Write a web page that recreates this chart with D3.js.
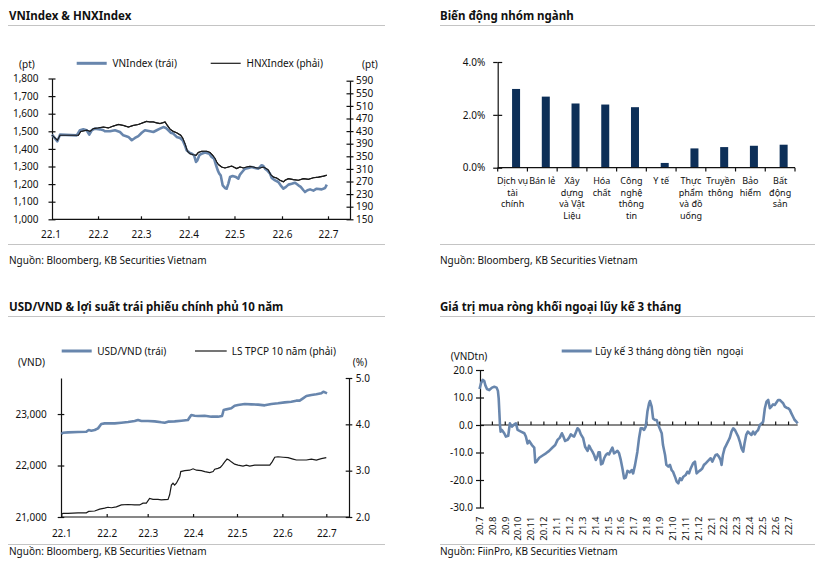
<!DOCTYPE html>
<html><head><meta charset="utf-8">
<script src="https://cdn.jsdelivr.net/npm/d3@7"></script>
<style>body{margin:0;background:#fff}svg{font-family:"Noto Sans",sans-serif}</style>
</head><body><script>
// ---------- DATA ----------
// Panel 1: VNIndex / HNXIndex (days since 2022-01-01)
const vnDay = [1,4.5,6.2,17.1,19.2,21.4,23.6,25.3,26.9,29.0,
  32.3,34.5,35.6,38.8,42.1,45.3,47.5,50.8,53.0,55.1,
  57.3,59.5,61.6,64.9,67.1,69.3,71.4,73.6,75.3,76.9,
  78.4,80.1,82.3,84.5,86.2,87.7,88.8,90.6,92.1,93.6,
  94.9,95.8,97.1,98.6,100.8,103.6,105.1,106.7,108.0,109.1,
  110.1,111.0,112.3,113.8,114.9,116.0,117.1,118.8,121.0,122.5,
  123.6,125.4,126.9,129.1,131.2,133.4,135.6,137.7,138.8,139.9,
  141.4,143.2,144.3,146.5,148.6,150.1,151.9,153.6,155.2,157.3,
  159.5,161.7,163.2,165.0,166.0,167.6,169.3,171.5,173.6,176.9,
  179.1,180.2];
const vnValue = [1481,1443,1481,1477,1506,1511,1506,1481,1506,1515,
  1511,1506,1500,1500,1506,1496,1477,1468,1449,1462,
  1473,1492,1506,1500,1496,1506,1515,1524,1519,1506,
  1492,1487,1468,1462,1449,1420,1392,1379,1373,1364,
  1326,1335,1364,1373,1379,1373,1354,1345,1307,1278,
  1259,1250,1193,1178,1174,1203,1240,1246,1240,1231,
  1254,1273,1288,1292,1297,1292,1288,1307,1303,1288,
  1278,1259,1235,1221,1212,1193,1174,1184,1197,1202,
  1208,1193,1184,1165,1155,1165,1170,1163,1174,1170,
  1178,1197];
const hnxDay = [1,4.5,6.2,18.2,19.7,23.6,25.8,28.0,31.2,34.5,
  37.7,41.0,44.3,47.5,50.8,54.0,57.3,60.6,62.7,64.9,
  67.1,69.3,71.4,73.6,74.7,76.2,78.0,80.1,82.3,84.9,
  86.2,87.7,89.3,91.0,93.2,94.9,96.4,98.6,101.9,104.0,
  105.8,107.3,108.4,109.5,111.6,113.8,116.0,118.2,121.4,123.6,
  125.8,128.0,130.1,132.3,134.5,136.6,138.8,140.6,142.1,143.6,
  145.4,147.5,149.7,151.9,153.0,155.2,158.4,161.7,165.0,168.2,
  171.5,174.8,178.1,180.2];
const hnxValue = [417,401,417,417,429,433,429,438,440,443,
  440,446,451,448,443,448,451,457,461,459,
  459,456,454,457,459,448,436,429,425,417,
  408,390,366,358,355,353,362,366,366,362,
  353,343,332,324,316,313,316,319,311,316,
  313,316,318,316,313,313,316,311,306,292,
  284,281,274,269,274,279,276,274,279,277,
  282,284,287,290];
const idxMonthTicks = ["2022-01-01","2022-02-01","2022-03-01","2022-04-01","2022-05-01","2022-06-01","2022-07-01"];
const idxMonthLabels = ["22.1","22.2","22.3","22.4","22.5","22.6","22.7"];
const vnTicks = [1000,1100,1200,1300,1400,1500,1600,1700,1800];
const hnxTicks = [150,190,230,270,310,350,390,430,470,510,550,590];

// Panel 2: sectors
const sectorNames = ["Dịch vụ\ntài\nchính","Bán lẻ","Xây\ndựng\nvà Vật\nLiệu","Hóa\nchất","Công\nnghệ\nthông\ntin","Y tế","Thực\nphẩm\nvà đồ\nuống","Truyền\nthông","Bảo\nhiểm","Bất\nđộng\nsản"];
const sectorValues = [2.98,2.69,2.43,2.39,2.29,0.18,0.73,0.78,0.83,0.87];
const sectorTicks = [0,2,4];

// Panel 3: USD/VND and 10Y yield (days since 2022-01-01)
const usdDay = [0,1.2,4.6,11.4,17.1,18.7,20.5,22.8,25.1,27.3,
  29.6,36.5,41.0,45.6,50.1,52.4,54.7,59.2,63.8,68.3,
  70.6,72.9,77.4,82.0,86.5,87.7,88.8,91.1,93.4,97.9,
  102.5,107.0,109.8,110.9,112.7,116.1,118.4,120.7,125.3,129.8,
  134.4,138.9,143.5,148.0,152.6,157.1,160.5,162.8,165.1,167.4,
  170.8,174.2,177.6,179,180.5,181.5];
const usdValue = [22612,22638,22644,22651,22657,22690,22677,22690,22722,22806,
  22819,22819,22832,22845,22865,22884,22865,22865,22858,22839,
  22832,22852,22858,22871,22884,22936,22981,22968,22962,22968,
  22949,22949,22962,23078,23091,23111,23162,23175,23195,23188,
  23182,23169,23195,23208,23227,23240,23260,23260,23305,23350,
  23370,23383,23402,23434,23415,23402];
const yieldDay = [0,1.2,4.6,11.4,17.1,18.7,22.8,26.2,29.6,31.9,
  34.2,37.6,41.0,45.6,50.1,53.5,55.8,58.1,60.3,62.6,
  66.0,68.3,72.9,74.0,75.2,76.3,77.4,78.6,80.9,81.6,
  84.3,87.7,90.0,92.3,95.7,98.0,101.4,103.7,104.8,107.0,
  108.6,110.0,111.6,113.2,114.6,116.1,118.4,120.7,124.1,126.4,
  128.7,132.1,136.7,140.0,142.4,144.0,145.8,148.0,151.5,154.9,
  158.3,160.6,164.0,167.4,170.8,174.2,177.6,181.0];
const yieldValue = [2.06,2.08,2.08,2.09,2.09,2.12,2.13,2.17,2.19,2.21,
  2.20,2.22,2.26,2.27,2.26,2.26,2.30,2.30,2.40,2.38,
  2.38,2.37,2.38,2.48,2.69,2.73,2.69,2.73,2.87,2.98,
  3.00,3.01,3.04,3.01,3.00,2.98,2.96,2.98,3.03,3.05,
  3.07,3.12,3.19,3.25,3.23,3.19,3.14,3.12,3.10,3.12,
  3.10,3.12,3.12,3.12,3.12,3.19,3.29,3.30,3.29,3.28,
  3.25,3.23,3.23,3.23,3.25,3.23,3.26,3.28];
const usdTicks = [21000,22000,23000];
const yieldTicks = [2,3,4,5];

// Panel 4: foreign net buying, 3M cumulative (months since 2020-07)
const flowMonth = [0.0,0.12,0.25,0.37,0.45,0.58,0.76,0.97,1.15,1.33,
  1.43,1.49,1.54,1.59,1.64,1.74,1.92,2.05,2.23,2.36,
  2.52,2.70,2.83,2.96,3.22,3.48,3.60,3.73,3.86,4.07,
  4.25,4.33,4.43,4.64,4.90,5.16,5.41,5.67,5.88,6.06,
  6.24,6.40,6.50,6.65,6.83,6.96,7.09,7.22,7.35,7.48,
  7.61,7.74,7.87,8.05,8.20,8.39,8.51,8.64,8.77,8.90,
  9.03,9.16,9.24,9.34,9.44,9.55,9.68,9.81,9.94,10.06,
  10.19,10.32,10.45,10.58,10.71,10.84,10.97,11.10,11.23,11.36,
  11.49,11.67,11.82,11.93,12.08,12.26,12.39,12.52,12.65,12.78,
  12.91,13.04,13.17,13.24,13.37,13.48,13.63,13.76,13.89,13.99,
  14.15,14.25,14.41,14.51,14.66,14.79,14.92,15.03,15.18,15.31,
  15.44,15.57,15.70,15.83,16.01,16.14,16.27,16.40,16.58,16.73,
  16.86,16.99,17.17,17.30,17.43,17.56,17.69,17.82,17.95,18.08,
  18.20,18.33,18.46,18.59,18.72,18.80,18.90,19.03,19.16,19.32,
  19.44,19.57,19.70,19.83,19.96,20.09,20.22,20.35,20.48,20.58,
  20.71,20.84,20.97,21.12,21.25,21.38,21.51,21.64,21.77,21.90,
  22.03,22.16,22.29,22.42,22.55,22.67,22.80,22.93,23.06,23.19,
  23.32,23.45,23.58,23.71,23.84,23.97,24.10,24.22,24.35,24.48,
  24.61,24.71];
const flowValue = [13.1,15.2,16.4,16.0,14.5,13.1,12.7,13.6,13.9,13.6,
  12.4,9.7,4.9,0.0,-2.4,-1.8,-3.0,-4.2,-3.9,0.6,
  -0.6,0.2,0.6,-1.8,-2.4,-3.0,-4.2,-6.7,-5.8,-7.3,
  -8.2,-13.6,-13.3,-11.9,-11.1,-10.3,-9.4,-8.2,-7.3,-5.4,
  -4.6,-3.0,-4.0,-5.8,-5.4,-4.6,-3.4,-3.9,-4.2,-2.7,
  -1.2,-1.8,-3.4,-4.8,-7.9,-9.4,-7.5,-8.7,-9.7,-10.9,
  -12.7,-11.5,-9.9,-9.9,-14.3,-14.0,-12.1,-10.9,-10.3,-10.7,
  -9.4,-8.2,-10.3,-9.9,-9.4,-10.3,-12.7,-15.8,-19.4,-19.1,
  -16.7,-17.2,-16.4,-17.6,-14.5,-9.7,-4.8,-1.2,-1.2,-1.8,
  -0.6,4.9,7.9,8.7,6.7,2.4,1.8,1.8,0.0,-1.2,
  -3.0,-7.3,-10.9,-14.5,-15.1,-14.5,-16.4,-17.0,-18.8,-20.6,
  -21.2,-19.4,-20.0,-18.8,-18.2,-17.0,-17.6,-15.8,-14.0,-13.3,
  -17.6,-17.0,-16.4,-15.8,-14.5,-14.0,-13.3,-12.7,-12.1,-13.3,
  -12.1,-10.9,-10.7,-11.5,-12.7,-14.5,-10.9,-8.5,-7.3,-5.8,
  -4.6,-2.4,-1.2,-1.8,-3.0,-4.2,-6.1,-8.5,-9.7,-6.7,
  -3.6,-2.4,-3.0,-3.6,-2.4,-3.4,-2.4,-1.8,0.0,0.6,
  1.2,6.1,8.5,9.1,6.1,6.7,7.5,7.3,8.2,9.1,
  9.1,8.5,7.9,6.7,6.3,6.1,5.5,4.2,3.0,1.8,
  1.2,0.6];
const flowTicks = [-30,-20,-10,0,10,20];
const flowMonthLabels = ["20.7","20.8","20.9","20.10","20.11","20.12","21.1","21.2","21.3","21.4","21.5","21.6","21.7","21.8","21.9","21.10","21.11","21.12","22.1","22.2","22.3","22.4","22.5","22.6","22.7"];

// ---------- DRAWING ----------
const BLUE = "#6886ad", INK = "#111";
const FONT = '"Noto Sans", sans-serif';
const svg = d3.select("body").append("svg").attr("width",815).attr("height",561);
const day0 = new Date(2022,0,1);
const toDate = d => new Date(day0.getTime() + d*86400000);

function styleAxis(g){
  g.attr("font-family",FONT).attr("font-size",10).attr("color",INK);
  g.selectAll("path,line").attr("stroke-width",1.2);
  return g;
}
function crossTicks(g, len){
  g.selectAll(".tick").append("line").attr("x2",len).attr("stroke","currentColor").attr("stroke-width",1.2);
}
function text(x,y,s,opt={}){
  return svg.append("text").attr("x",x).attr("y",y).text(s)
    .attr("font-size",opt.size||10).attr("font-weight",opt.weight||"normal")
    .attr("text-anchor",opt.anchor||"start").attr("fill",INK).style("white-space","pre");
}
function hline(x1,x2,y,color,w){
  svg.append("line").attr("x1",x1).attr("x2",x2).attr("y1",y).attr("y2",y).attr("stroke",color).attr("stroke-width",w);
}

// frames: titles, separators, sources
[[8,385],[440,815]].forEach(([a,b])=>{
  hline(a,b,25.5,"#c4c4c4",1); hline(a,b,244.5,"#c4c4c4",1);
  hline(a,b,316.5,"#c4c4c4",1); hline(a,b,544.5,"#c4c4c4",1);
});
text(9,19.5,"VNIndex & HNXIndex",{size:11.5,weight:"bold"});
text(440,19.5,"Biến động nhóm ngành",{size:11.5,weight:"bold"});
text(9,310.5,"USD/VND & lợi suất trái phiếu chính phủ 10 năm",{size:11.5,weight:"bold"});
text(440,310.5,"Giá trị mua ròng khối ngoại lũy kế 3 tháng",{size:11.5,weight:"bold"});
text(9,263.5,"Nguồn: Bloomberg, KB Securities Vietnam");
text(440,263.5,"Nguồn: Bloomberg, KB Securities Vietnam");
text(9,555,"Nguồn: Bloomberg, KB Securities Vietnam");
text(440,555,"Nguồn: FiinPro, KB Securities Vietnam");

// ---------- Panel 1 ----------
{
  const x = d3.scaleTime().domain([day0, new Date(2022,6,1)]).range([50.5,328]);
  const yL = d3.scaleLinear().domain([1000,1800]).range([219.3,78.5]);
  const yR = d3.scaleLinear().domain([150,590]).range([219.3,80.7]);
  hline(52,350,219.3,INK,1.2);
  const gx = styleAxis(svg.append("g").attr("transform","translate(0,219.3)")
    .call(d3.axisBottom(x).tickValues(idxMonthTicks.map(s=>new Date(s+"T00:00"))).tickFormat((d,i)=>idxMonthLabels[i])
      .tickSizeInner(-3).tickSizeOuter(0).tickPadding(12)));
  gx.select(".domain").remove();
  gx.select(".tick line").remove();
  const gl = styleAxis(svg.append("g").attr("transform","translate(52,0)")
    .call(d3.axisLeft(yL).tickValues(vnTicks).tickFormat(d3.format(",")).tickSizeInner(3.5).tickSizeOuter(0).tickPadding(10)));
  crossTicks(gl,3.5);
  const gr = styleAxis(svg.append("g").attr("transform","translate(350,0)")
    .call(d3.axisRight(yR).tickValues(hnxTicks).tickSizeInner(3.5).tickSizeOuter(0).tickPadding(2.5)));
  crossTicks(gr,-3.5);
  const hnxLine = d3.line().x(d=>x(toDate(d[0]))).y(d=>yR(d[1]));
  svg.append("path").datum(d3.zip(hnxDay,hnxValue)).attr("fill","none").attr("stroke","#1a1a1a").attr("stroke-width",1.2)
    .attr("d",hnxLine);
  svg.append("path").datum(d3.zip(vnDay,vnValue)).attr("fill","none").attr("stroke",BLUE).attr("stroke-width",2.6)
    .attr("stroke-linejoin","round").attr("d",d3.line().x(d=>x(toDate(d[0]))).y(d=>yL(d[1])));
  svg.append("path").datum(d3.zip(hnxDay,hnxValue)).attr("fill","none").attr("stroke","#1a1a1a").attr("stroke-width",1.1)
    .attr("d",hnxLine);
  hline(76.7,106.7,63.3,BLUE,3); text(112.5,67,"VNIndex (trái)");
  hline(210.7,240.7,63.3,"#1a1a1a",1.2); text(246.5,67,"HNXIndex (phải)");
  text(27,68,"(pt)",{anchor:"middle"}); text(370,68,"(pt)",{anchor:"middle"});
}

// ---------- Panel 2 ----------
{
  const x = d3.scaleBand().domain(sectorNames).range([497.7,795]);
  const y = d3.scaleLinear().domain([0,4]).range([167.7,62]);
  const bw = x.bandwidth();
  svg.append("g").selectAll("rect").data(d3.zip(sectorNames,sectorValues)).join("rect")
    .attr("x",d=>x(d[0])+bw/2-0.5).attr("width",8)
    .attr("y",d=>y(d[1])).attr("height",d=>y(0)-y(d[1]))
    .attr("fill","#0d2f58");
  const gl = styleAxis(svg.append("g").attr("transform","translate(497.7,0)")
    .call(d3.axisLeft(y).tickValues(sectorTicks).tickFormat(d=>d.toFixed(1)+"%").tickSizeInner(4.5).tickSizeOuter(0).tickPadding(8)));
  crossTicks(gl,4.5);
  hline(497.7,795,167.7,INK,1.2);
  const bounds = sectorNames.map(n=>x(n)).concat([x.range()[1]]);
  svg.append("g").selectAll("line").data(bounds).join("line")
    .attr("x1",d=>d).attr("x2",d=>d).attr("y1",167.7).attr("y2",171.5).attr("stroke",INK).attr("stroke-width",1.2);
  const lab = svg.append("g").attr("font-size",9).attr("fill",INK).attr("text-anchor","middle");
  sectorNames.forEach(n=>{
    const t = lab.append("text").attr("x",x(n)+bw/2).attr("y",184);
    n.split("\n").forEach((ln,i)=>t.append("tspan").attr("x",x(n)+bw/2).attr("dy",i?11.7:0).text(ln));
  });
}

// ---------- Panel 3 ----------
{
  const x = d3.scaleTime().domain([day0, new Date(2022,6,1)]).range([61.3,326.3]);
  const yL = d3.scaleLinear().domain([21000,23700]).range([517,378]);
  const yR = d3.scaleLinear().domain([2,5]).range([517,378]);
  hline(61,349,517,INK,1.2);
  const gx = styleAxis(svg.append("g").attr("transform","translate(0,517)")
    .call(d3.axisBottom(x).tickValues(idxMonthTicks.map(s=>new Date(s+"T00:00"))).tickFormat((d,i)=>idxMonthLabels[i])
      .tickSizeInner(-3).tickSizeOuter(0).tickPadding(13)));
  gx.select(".domain").remove();
  const gl = styleAxis(svg.append("g").attr("transform","translate(61,0)")
    .call(d3.axisLeft(yL).tickValues(usdTicks).tickFormat(d3.format(",")).tickSizeInner(3.3).tickSizeOuter(0).tickPadding(11)));
  crossTicks(gl,3.3);
  const gr = styleAxis(svg.append("g").attr("transform","translate(349,0)")
    .call(d3.axisRight(yR).tickValues(yieldTicks).tickFormat(d=>d.toFixed(1)).tickSizeInner(3.3).tickSizeOuter(0).tickPadding(3.5)));
  crossTicks(gr,-3.3);
  svg.append("path").datum(d3.zip(usdDay,usdValue)).attr("fill","none").attr("stroke",BLUE).attr("stroke-width",2.6)
    .attr("stroke-linejoin","round").attr("d",d3.line().x(d=>x(toDate(d[0]))).y(d=>yL(d[1])));
  svg.append("path").datum(d3.zip(yieldDay,yieldValue)).attr("fill","none").attr("stroke","#1a1a1a").attr("stroke-width",1.2)
    .attr("d",d3.line().x(d=>x(toDate(d[0]))).y(d=>yR(d[1])));
  hline(61.7,91.7,351,BLUE,3); text(97.3,354.5,"USD/VND (trái)");
  hline(195,226.7,351,"#1a1a1a",1.2); text(231.7,354.5,"LS TPCP 10 năm (phải)");
  text(31.5,366,"(VND)",{anchor:"middle"}); text(360,366,"(%)",{anchor:"middle"});
}

// ---------- Panel 4 ----------
{
  const x = d3.scaleLinear().domain([0,24.71]).range([479.5,797.7]);
  const y = d3.scaleLinear().domain([-30,20]).range([507.5,370]);
  const gl = styleAxis(svg.append("g").attr("transform","translate(480,0)")
    .call(d3.axisLeft(y).tickValues(flowTicks).tickFormat(d=>d.toFixed(1)).tickSizeInner(4).tickSizeOuter(0).tickPadding(3)));
  crossTicks(gl,4);
  hline(480,797.7,y(0),INK,1.2);
  const months = flowMonthLabels.map((s,i)=>i);
  svg.append("g").selectAll("line").data(months.slice(1)).join("line")
    .attr("x1",d=>x(d)).attr("x2",d=>x(d)).attr("y1",y(0)).attr("y2",y(0)-3.5).attr("stroke",INK).attr("stroke-width",1.2);
  svg.append("g").selectAll("text").data(months).join("text")
    .attr("transform",d=>`translate(${x(d)},516.5) rotate(-90)`).attr("dy","0.35em")
    .attr("text-anchor","end").attr("font-size",9.5).attr("fill",INK).text(d=>flowMonthLabels[d]);
  svg.append("path").datum(d3.zip(flowMonth,flowValue)).attr("fill","none").attr("stroke",BLUE).attr("stroke-width",2.6)
    .attr("stroke-linejoin","round").attr("d",d3.line().x(d=>x(d[0])).y(d=>y(d[1])));
  hline(561.7,591.7,351,BLUE,3); text(595,354.5,"Lũy kế 3 tháng dòng tiền  ngoại");
  text(469,359.5,"(VNDtn)",{anchor:"middle"});
}
</script></body></html>
